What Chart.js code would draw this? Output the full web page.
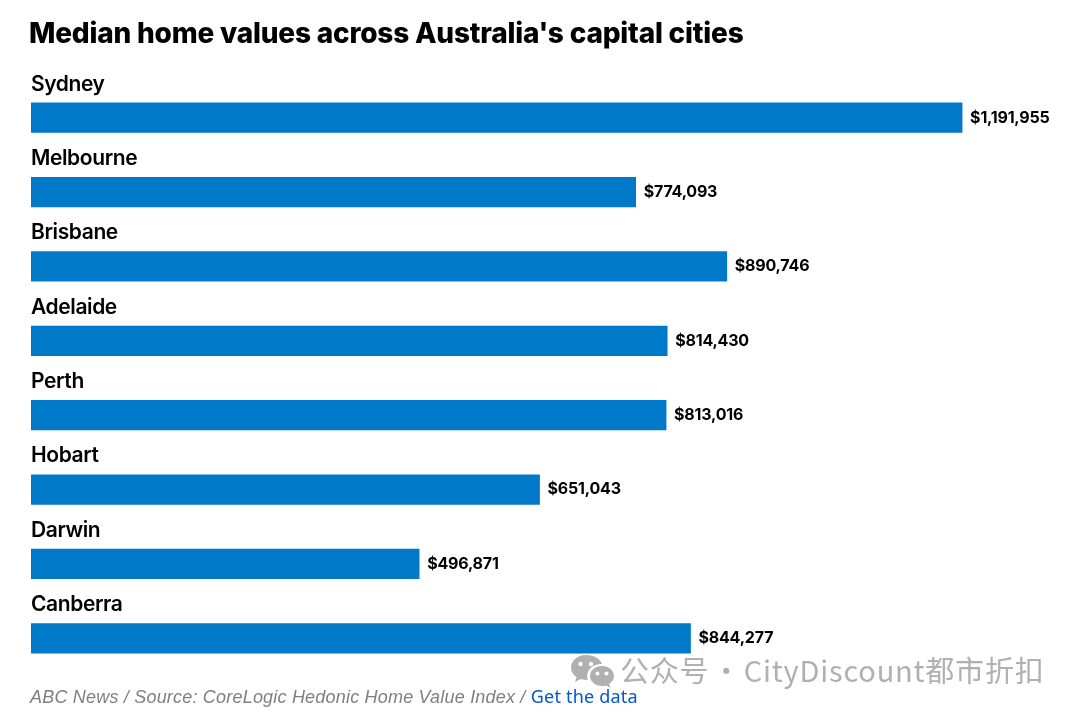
<!DOCTYPE html>
<html>
<head>
<meta charset="utf-8">
<title>Median home values</title>
<script src="https://cdn.jsdelivr.net/npm/chart.js@4/dist/chart.umd.min.js"></script>
<style>
  html, body { margin: 0; padding: 0; background: #fff; }
  #wrap { position: relative; width: 1080px; height: 715px; overflow: hidden; }
  #wrap div { position: absolute; white-space: nowrap; }
  #title { left: 29px; top: 15px; font: 800 28px/36px Inter, sans-serif; letter-spacing: -0.2px; color: #000; }
  #source { left: 30px; top: 686px; font: italic 18px/21px "Liberation Sans", sans-serif; letter-spacing: 0.2px; color: #7f7f7f; }
  #source span { font: 400 18px/21px "Noto Sans", sans-serif; letter-spacing: 0.2px; color: #0058cc; }
  #mark { left: 620px; top: 651px; font: 400 29px/36px "Noto Sans CJK SC", sans-serif; letter-spacing: 0.8px; word-spacing: -5px; color: #b0b0b0; }
  #icon { position: absolute; left: 570px; top: 654px; }
</style>
</head>
<body>
<div id="wrap">
  <canvas id="chart" width="1080" height="715"></canvas>
  <div id="title">Median home values across Australia's capital cities</div>
  <svg id="icon" width="44" height="34" viewBox="0 0 44 34">
    <path d="M16 1C7.5 1 1 6.6 1 13.5c0 4 2.2 7.4 5.6 9.7L5 28l5.6-2.9c1.7.5 3.5.8 5.4.8.6 0 1.2 0 1.8-.1-.4-1.2-.6-2.4-.6-3.7 0-6.7 6.2-12 14-12h.9C30.5 5 24 1 16 1z" fill="#b0b0b0"/>
    <path d="M32 12c-6.6 0-12 4.4-12 10s5.400 10 12 10c1.400 0 2.700-.2 4-.6l4.400 2.400-1.200-3.900c2.900-1.800 4.800-4.700 4.800-7.900 0-5.600-5.400-10-12-10z" fill="#b0b0b0"/>
    <circle cx="27.500" cy="19.500" r="2" fill="#fff"/><circle cx="36.500" cy="19.500" r="2" fill="#fff"/>
    <circle cx="10.500" cy="10" r="2.200" fill="#fff"/><circle cx="21" cy="10" r="2.200" fill="#fff"/>
  </svg>
  <div id="mark">公众号 · CityDiscount都市折扣</div>
  <div id="source">ABC News / Source: CoreLogic Hedonic Home Value Index / <span>Get the data</span></div>
</div>
<script>
const cities = ['Sydney', 'Melbourne', 'Brisbane', 'Adelaide', 'Perth', 'Hobart', 'Darwin', 'Canberra'];
const medianValues = [1191955, 774093, 890746, 814430, 813016, 651043, 496871, 844277];

// city name above each bar, dollar value at the end of it
const barLabels = {
  id: 'barLabels',
  afterDatasetsDraw(chart) {
    const ctx = chart.ctx;
    const meta = chart.getDatasetMeta(0);
    ctx.save();
    ctx.textBaseline = 'middle';
    ctx.textAlign = 'left';
    meta.data.forEach((bar, i) => {
      ctx.fillStyle = '#000';
      ctx.font = '600 21px Inter, sans-serif';
      ctx.letterSpacing = '-0.4px';
      ctx.fillText(cities[i], chart.chartArea.left, bar.y - 33.5);
      ctx.font = '700 16px Inter, sans-serif';
      ctx.letterSpacing = '-0.2px';
      ctx.fillText('$' + medianValues[i].toLocaleString('en-US'), bar.x + 8, bar.y);
    });
    ctx.restore();
  },
};

new Chart(document.getElementById('chart'), {
  type: 'bar',
  data: {
    labels: cities,
    datasets: [
      {
        data: medianValues,
        backgroundColor: '#0079c8',
        barThickness: 29.5,
      },
    ],
  },
  options: {
    indexAxis: 'y',
    responsive: false,
    animation: false,
    layout: { padding: { left: 31, right: 33.5, top: 80.5, bottom: 39.5 } },
    plugins: { legend: { display: false }, tooltip: { enabled: false } },
    scales: {
      x: { display: false, min: 0, max: 1300000 },
      y: { display: false },
    },
  },
  plugins: [barLabels],
});
</script>
</body>
</html>
